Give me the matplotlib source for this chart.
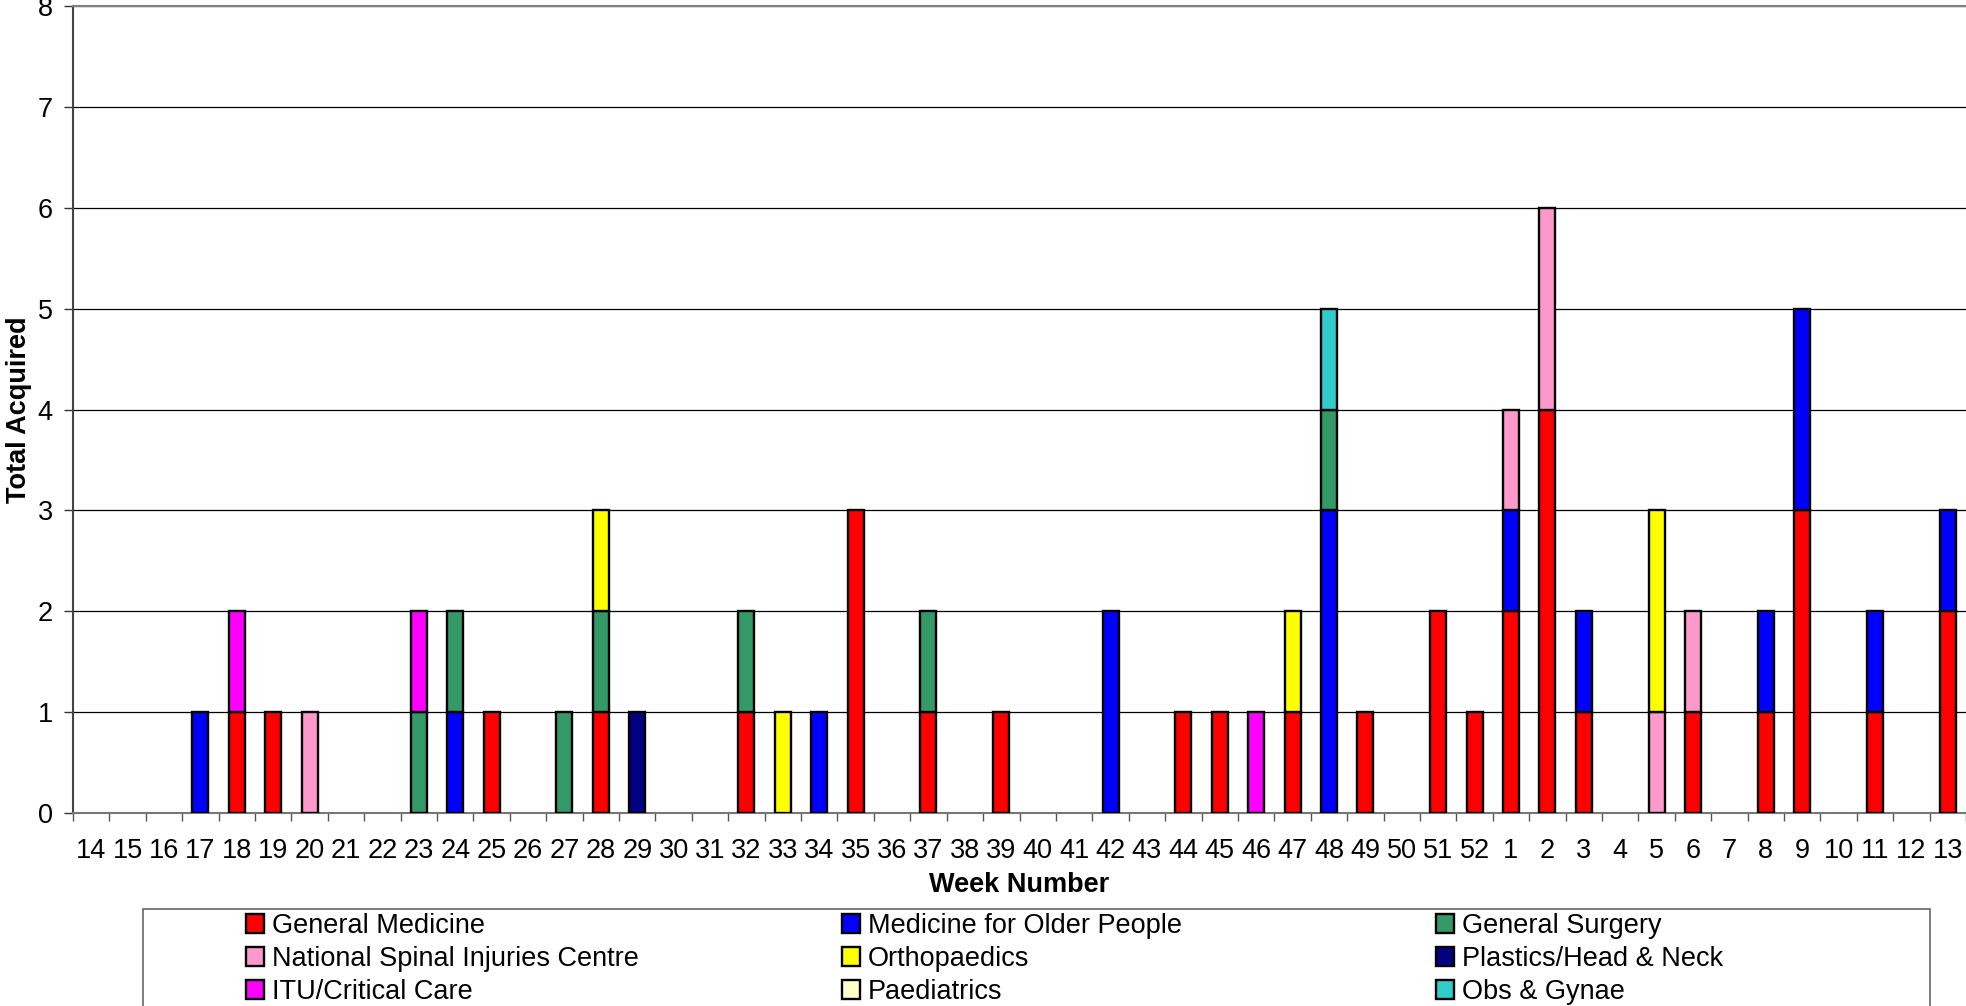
import numpy as np
import matplotlib
matplotlib.use("Agg")
import matplotlib.pyplot as plt
from matplotlib.patches import Rectangle, Patch

plt.rcParams['font.family'] = ['Liberation Sans', 'DejaVu Sans']

# week labels (financial year: 14..52 then 1..13)
weeks = [str(w) for w in range(14, 53)] + [str(w) for w in range(1, 14)]

# counts per specialty, one value per week
general_medicine = [0, 0, 0, 0, 1, 1, 0, 0, 0, 0, 0, 1, 0, 0, 1, 0, 0, 0, 1, 0,
                    0, 3, 0, 1, 0, 1, 0, 0, 0, 0, 1, 1, 0, 1, 0, 1, 0, 2, 1,
                    2, 4, 1, 0, 0, 1, 0, 1, 3, 0, 1, 0, 2]
older_people = [0, 0, 0, 1, 0, 0, 0, 0, 0, 0, 1, 0, 0, 0, 0, 0, 0, 0, 0, 0,
                1, 0, 0, 0, 0, 0, 0, 0, 2, 0, 0, 0, 0, 0, 3, 0, 0, 0, 0,
                1, 0, 1, 0, 0, 0, 0, 1, 2, 0, 1, 0, 1]
general_surgery = [0, 0, 0, 0, 0, 0, 0, 0, 0, 1, 1, 0, 0, 1, 1, 0, 0, 0, 1, 0,
                   0, 0, 0, 1, 0, 0, 0, 0, 0, 0, 0, 0, 0, 0, 1, 0, 0, 0, 0,
                   0, 0, 0, 0, 0, 0, 0, 0, 0, 0, 0, 0, 0]
spinal = [0, 0, 0, 0, 0, 0, 1, 0, 0, 0, 0, 0, 0, 0, 0, 0, 0, 0, 0, 0,
          0, 0, 0, 0, 0, 0, 0, 0, 0, 0, 0, 0, 0, 0, 0, 0, 0, 0, 0,
          1, 2, 0, 0, 1, 1, 0, 0, 0, 0, 0, 0, 0]
orthopaedics = [0, 0, 0, 0, 0, 0, 0, 0, 0, 0, 0, 0, 0, 0, 1, 0, 0, 0, 0, 1,
                0, 0, 0, 0, 0, 0, 0, 0, 0, 0, 0, 0, 0, 1, 0, 0, 0, 0, 0,
                0, 0, 0, 0, 2, 0, 0, 0, 0, 0, 0, 0, 0]
plastics = [0, 0, 0, 0, 0, 0, 0, 0, 0, 0, 0, 0, 0, 0, 0, 1, 0, 0, 0, 0,
            0, 0, 0, 0, 0, 0, 0, 0, 0, 0, 0, 0, 0, 0, 0, 0, 0, 0, 0,
            0, 0, 0, 0, 0, 0, 0, 0, 0, 0, 0, 0, 0]
itu = [0, 0, 0, 0, 1, 0, 0, 0, 0, 1, 0, 0, 0, 0, 0, 0, 0, 0, 0, 0,
       0, 0, 0, 0, 0, 0, 0, 0, 0, 0, 0, 0, 1, 0, 0, 0, 0, 0, 0,
       0, 0, 0, 0, 0, 0, 0, 0, 0, 0, 0, 0, 0]
paediatrics = [0] * 52
obs_gynae = [0, 0, 0, 0, 0, 0, 0, 0, 0, 0, 0, 0, 0, 0, 0, 0, 0, 0, 0, 0,
             0, 0, 0, 0, 0, 0, 0, 0, 0, 0, 0, 0, 0, 0, 1, 0, 0, 0, 0,
             0, 0, 0, 0, 0, 0, 0, 0, 0, 0, 0, 0, 0]

series = [
    ('General Medicine', general_medicine, '#FF0000'),
    ('Medicine for Older People', older_people, '#0000FF'),
    ('General Surgery', general_surgery, '#339966'),
    ('National Spinal Injuries Centre', spinal, '#FF99CC'),
    ('Orthopaedics', orthopaedics, '#FFFF00'),
    ('Plastics/Head & Neck', plastics, '#000080'),
    ('ITU/Critical Care', itu, '#FF00FF'),
    ('Paediatrics', paediatrics, '#FFFFCC'),
    ('Obs & Gynae', obs_gynae, '#33CCCC'),
]

FS = 19.5
W, H = 1966, 1006
fig = plt.figure(figsize=(W / 100, H / 100), dpi=100)
ax = fig.add_axes([73 / W, (H - 813) / H, (W - 73) / W, (813 - 6) / H])

x = np.arange(len(weeks))
bottom = np.zeros(len(weeks))
for name, vals, col in series:
    v = np.array(vals, dtype=float)
    mask = v > 0
    ax.bar(x[mask], v[mask], bottom=bottom[mask], width=0.44, color=col,
           edgecolor='black', linewidth=1.7, zorder=3)
    bottom += v

ax.set_xlim(-0.5, len(weeks) - 0.5)
ax.set_ylim(0, 8)
ax.set_yticks(range(0, 9))
ax.yaxis.grid(True, color='black', linewidth=0.9, zorder=0)

ax.set_xticks(x)
ax.set_xticklabels(weeks)
ax.set_xticks(np.arange(-0.5, len(weeks), 1), minor=True)
ax.tick_params(axis='x', which='major', length=0, pad=18, labelsize=FS)
ax.tick_params(axis='x', which='minor', length=6, width=1, color='#555555')
ax.tick_params(axis='y', length=6.5, width=1, pad=8, labelsize=FS, color='#333333')

ax.spines['left'].set_color('#444444')
ax.spines['left'].set_linewidth(1.5)
ax.spines['bottom'].set_color('#777777')
ax.spines['bottom'].set_linewidth(1.5)
ax.spines['top'].set_color('#808080')
ax.spines['top'].set_linewidth(1.5)
ax.spines['right'].set_visible(False)

ax.set_xlabel('Week Number', fontsize=FS, fontweight='bold', labelpad=5.5)
ax.set_ylabel('Total Acquired', fontsize=FS, fontweight='bold', labelpad=4)

# legend frame (runs off the bottom of the figure like the original)
fig.patches.append(Rectangle((143 / W, -0.02), (1930 - 143) / W, (H - 909) / H + 0.02,
                             transform=fig.transFigure, fill=False,
                             edgecolor='#666666', linewidth=1.2))

col_x = [246, 842, 1436]
for c in range(3):
    handles = [Patch(facecolor=series[c + 3 * r][2], edgecolor='black', linewidth=1.7,
                     label=series[c + 3 * r][0]) for r in range(3)]
    fig.legend(handles=handles, loc='upper left', bbox_to_anchor=(col_x[c] / W, 1 - 913 / H),
               frameon=False, fontsize=FS, handlelength=0.68, handleheight=0.68,
               handletextpad=0.28, labelspacing=0.26, borderpad=0, borderaxespad=0)

fig.savefig('out.png', dpi=100)
